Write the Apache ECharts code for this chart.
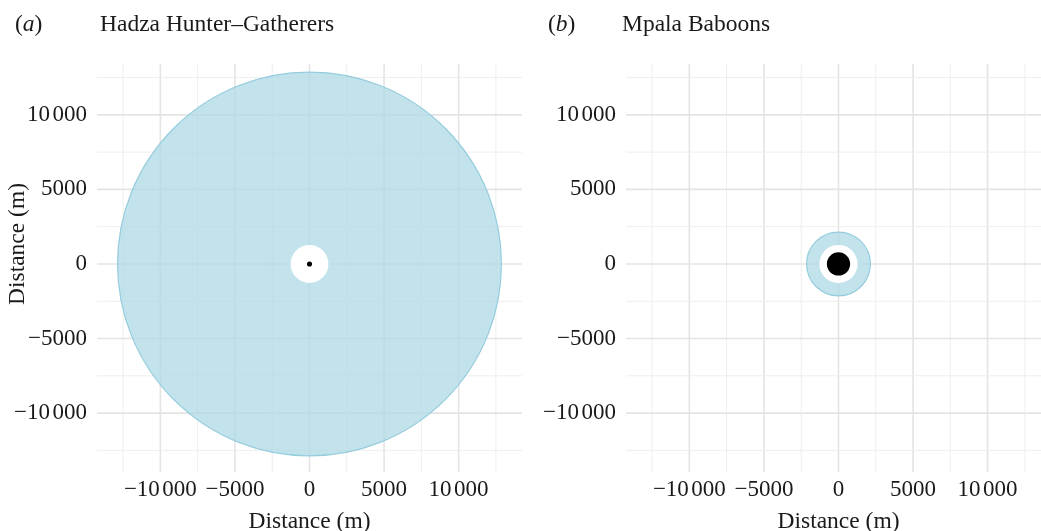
<!DOCTYPE html>
<html>
<head>
<meta charset="utf-8">
<script src="https://cdn.jsdelivr.net/npm/echarts@6/dist/echarts.min.js"></script>
<style>
  html, body { margin: 0; padding: 0; background: #ffffff; }
  #chart { width: 1041px; height: 531px; }
</style>
</head>
<body>
<div id="chart"></div>
<script>
// ---- data ----
const panelTitles = ['Hadza Hunter\u2013Gatherers', 'Mpala Baboons'];
const panelTags = ['a', 'b'];
const tickValues = [-10000, -5000, 0, 5000, 10000];
const gridValues = [-12500, -10000, -7500, -5000, -2500, 0, 2500, 5000, 7500, 10000, 12500];
// circles: [centreX, centreY, radius] (m), drawn outer -> inner
const hadzaCircles = [[0, 0, 12870], [0, 0, 1270], [0, 0, 170]];
const baboonCircles = [[0, 0, 2140], [0, 0, 1280], [0, 0, 780]];
const axisTitle = 'Distance (m)';

// ---- styles ----
const FONT = '"Liberation Serif", "DejaVu Serif", serif';
const TEXT = '#1a1a1a';
const TICK_SIZE = 23;
const circleFills = ['rgba(173,216,230,0.75)', '#ffffff', '#000000'];
const circleStrokes = ['rgba(150,205,222,1)', null, null];

function fmt(v) {
  const a = Math.abs(v);
  const sign = v < 0 ? '\u2212' : '';
  if (a >= 10000) {
    const s = String(a);
    return '{n|' + sign + s.slice(0, s.length - 3) + '}{g|' + s.slice(-3) + '}';
  }
  return '{n|' + sign + a + '}';
}

const X_MIN = -14250, X_MAX = 14250, Y_MIN = -13950, Y_MAX = 13410;
const labelRich = {
  n: { fontFamily: FONT, fontSize: TICK_SIZE, color: TEXT },
  g: { fontFamily: FONT, fontSize: TICK_SIZE, color: TEXT, padding: [0, 0, 0, 2.5] }
};

function makeX(i) {
  return {
    gridIndex: i, type: 'value', min: X_MIN, max: X_MAX,
    axisLine: { show: false }, axisTick: { show: false }, splitLine: { show: false },
    axisLabel: { customValues: tickValues, formatter: fmt, fontFamily: FONT, fontSize: TICK_SIZE, color: TEXT, margin: 6, rich: labelRich },
    name: axisTitle, nameLocation: 'middle', nameGap: 38,
    nameTextStyle: { fontFamily: FONT, fontSize: 23.5, color: TEXT }
  };
}
function makeY(i) {
  return {
    gridIndex: i, type: 'value', min: Y_MIN, max: Y_MAX,
    axisLine: { show: false }, axisTick: { show: false }, splitLine: { show: false },
    axisLabel: { customValues: tickValues, formatter: fmt, fontFamily: FONT, fontSize: TICK_SIZE, color: TEXT, margin: 10, rich: labelRich }
  };
}

function gridSeries(i, vertical) {
  return {
    type: 'custom', xAxisIndex: i, yAxisIndex: i, z: 1, silent: true, clip: false,
    data: gridValues.map(v => vertical ? [v, 0] : [0, v]),
    renderItem: function (params, api) {
      const cs = params.coordSys;
      const v = vertical ? api.value(0) : api.value(1);
      const major = v % 5000 === 0;
      const style = { stroke: major ? '#e4e4e4' : '#eeeeee', lineWidth: major ? 1.6 : 1 };
      if (vertical) {
        const x = api.coord([v, 0])[0];
        return { type: 'line', shape: { x1: x, y1: cs.y, x2: x, y2: cs.y + cs.height }, style };
      } else {
        const y = api.coord([0, v])[1];
        return { type: 'line', shape: { x1: cs.x, y1: y, x2: cs.x + cs.width, y2: y }, style };
      }
    }
  };
}

function circleSeries(i, circles) {
  return {
    type: 'custom', xAxisIndex: i, yAxisIndex: i, z: 3, silent: true, clip: false,
    data: circles,
    renderItem: function (params, api) {
      const c = api.coord([api.value(0), api.value(1)]);
      const r = api.size([api.value(2), api.value(2)])[0];
      const k = params.dataIndex;
      const style = { fill: circleFills[k] };
      if (circleStrokes[k]) { style.stroke = circleStrokes[k]; style.lineWidth = 1.2; }
      return { type: 'circle', shape: { cx: c[0], cy: c[1], r: r }, style };
    }
  };
}

const titleTop = 13;
const chart = echarts.init(document.getElementById('chart'), null, { renderer: 'canvas' });
chart.setOption({
  backgroundColor: '#ffffff',
  animation: false,
  grid: [
    { left: 97, top: 64, width: 425, height: 408, containLabel: false, outerBoundsMode: 'none' },
    { left: 626, top: 64, width: 425, height: 408, containLabel: false, outerBoundsMode: 'none' }
  ],
  xAxis: [makeX(0), makeX(1)],
  yAxis: [makeY(0), makeY(1)],
  series: [
    gridSeries(0, true), gridSeries(0, false), circleSeries(0, hadzaCircles),
    gridSeries(1, true), gridSeries(1, false), circleSeries(1, baboonCircles)
  ],
  graphic: [
    { type: 'text', left: 15, top: titleTop, style: { text: '({i|' + panelTags[0] + '})', font: '23.5px ' + FONT, fill: TEXT,
      rich: { i: { fontStyle: 'italic', fontFamily: FONT, fontSize: 23.5, fill: TEXT } } } },
    { type: 'text', left: 100, top: titleTop, style: { text: panelTitles[0], font: '23.5px ' + FONT, fill: TEXT } },
    { type: 'text', left: 548, top: titleTop, style: { text: '({i|' + panelTags[1] + '})', font: '23.5px ' + FONT, fill: TEXT,
      rich: { i: { fontStyle: 'italic', fontFamily: FONT, fontSize: 23.5, fill: TEXT } } } },
    { type: 'text', left: 622, top: titleTop, style: { text: panelTitles[1], font: '23.5px ' + FONT, fill: TEXT } },
    { type: 'text', x: 18, y: 244, rotation: Math.PI / 2,
      style: { text: axisTitle, font: '23.5px ' + FONT, fill: TEXT, textAlign: 'center', textVerticalAlign: 'middle' } }
  ]
});
</script>
</body>
</html>
